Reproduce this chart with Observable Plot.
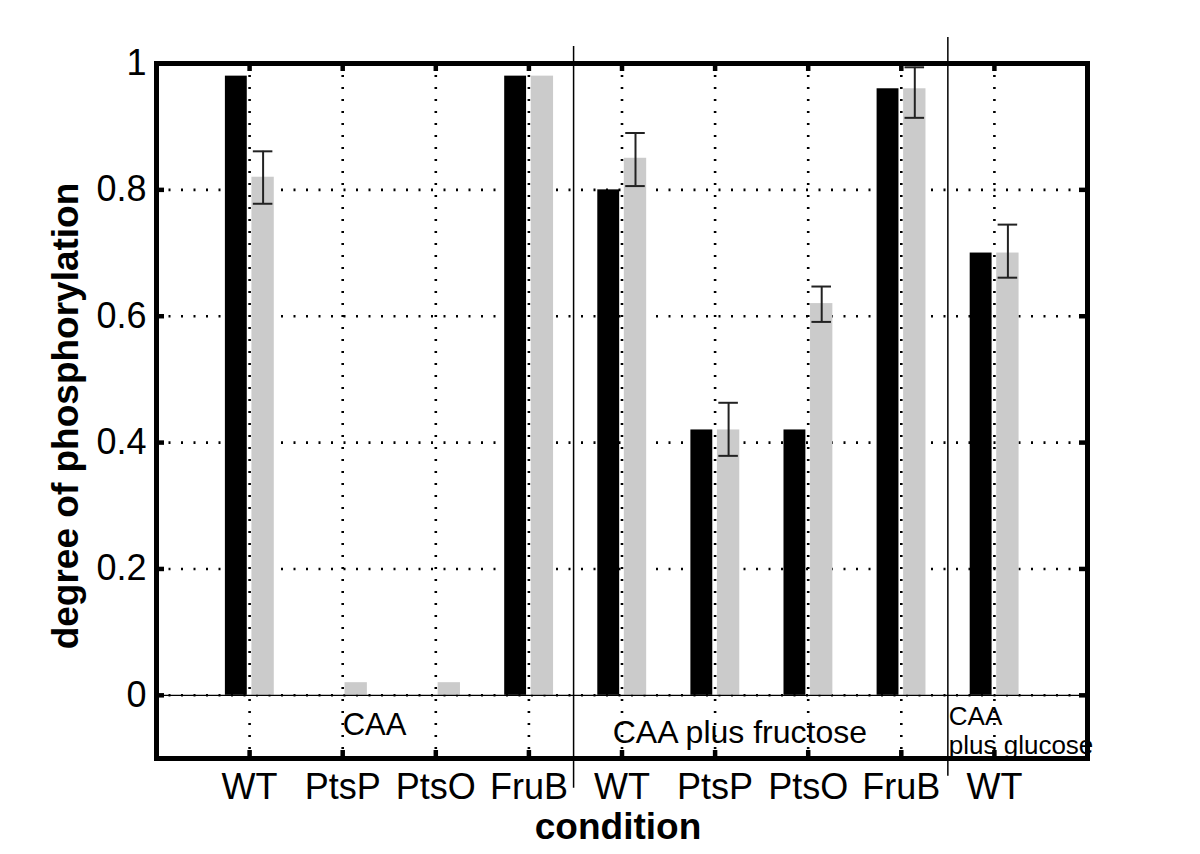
<!DOCTYPE html>
<html><head><meta charset="utf-8">
<script src="https://cdn.jsdelivr.net/npm/d3@7"></script>
<script src="https://cdn.jsdelivr.net/npm/@observablehq/plot@0.6"></script>
<style>body{margin:0;background:#fff} svg{display:block}</style>
</head><body><div id="chart"></div>
<script>
// ---- data ----
const conditions = ["WT","PtsP","PtsO","FruB","WT","PtsP","PtsO","FruB","WT"];
const blackValues = [0.98, 0, 0, 0.98, 0.80, 0.42, 0.42, 0.96, 0.70];
const greyValues  = [0.82, 0.02, 0.02, 0.98, 0.85, 0.42, 0.62, 0.96, 0.70];
const errLow  = [0.778, null, null, null, 0.806, 0.379, 0.591, 0.914, 0.661];
const errHigh = [0.861, null, null, null, 0.890, 0.463, 0.647, 0.994, 0.745];
const yTicks = [0, 0.2, 0.4, 0.6, 0.8, 1];
const groupNames = ["CAA", "CAA plus fructose", "CAA\nplus glucose"];
const groupStart = [2.0, 4.9, 8.51];
const separatorX = [4.48, 8.5];
const separatorTop = [1.027, 1.041];
const separatorBottom = [-0.147, -0.128];

// ---- tables ----
const rows = conditions.map((c, i) => ({pos: i + 1, label: c, black: blackValues[i], grey: greyValues[i], lo: errLow[i], hi: errHigh[i]}));
const errRows = rows.filter(d => d.lo != null);
const positions = rows.map(d => d.pos);
const seps = separatorX.map((x, i) => ({x, top: separatorTop[i], bottom: separatorBottom[i]}));

const W = 1200, H = 854, mL = 156, mR = 113, mT = 63, mB = 96;
const pw = W - mL - mR, ph = H - mT - mB, tickLen = 8;
const font = "'Liberation Sans', Arial, Helvetica, sans-serif";

const chart = Plot.plot({
  width: W, height: H,
  marginLeft: mL, marginRight: mR, marginTop: mT, marginBottom: mB,
  x: {type: "linear", domain: [0, 10]},
  y: {domain: [-0.1, 1]},
  style: {fontFamily: font, background: "#fff", color: "#000", fontSize: "36px"},
  marks: [
    // dotted grid
    Plot.ruleY(yTicks, {y: d => d, stroke: "#000", strokeWidth: 2.6, strokeDasharray: "2,10.5"}),
    Plot.ruleX(positions, {x: d => d, stroke: "#000", strokeWidth: 2.6, strokeDasharray: "2,10"}),
    // bars
    Plot.rect(rows, {x1: d => d.pos - 0.26, x2: d => d.pos - 0.025, y1: d => 0, y2: "black", fill: "#000"}),
    Plot.rect(rows, {x1: d => d.pos + 0.025, x2: d => d.pos + 0.265, y1: d => 0, y2: "grey", fill: "#cbcbcb"}),
    // zero line
    Plot.ruleY([0], {y: d => d, stroke: "#000", strokeWidth: 1.3}),
    // error bars
    Plot.ruleX(errRows, {x: d => d.pos + 0.145, y1: "lo", y2: "hi", stroke: "#222", strokeWidth: 2}),
    Plot.ruleY(errRows, {y: "lo", x1: d => d.pos + 0.04, x2: d => d.pos + 0.25, stroke: "#222", strokeWidth: 2}),
    Plot.ruleY(errRows, {y: "hi", x1: d => d.pos + 0.04, x2: d => d.pos + 0.25, stroke: "#222", strokeWidth: 2}),
    // separators
    Plot.ruleX(seps, {x: "x", y1: "bottom", y2: "top", stroke: "#000", strokeWidth: 1.5}),
    // group labels
    Plot.text([0], {x: () => groupStart[0], y: () => -0.047, text: () => groupNames[0], textAnchor: "start", fontSize: 31}),
    Plot.text([1], {x: () => groupStart[1], y: () => -0.0586, text: () => groupNames[1], textAnchor: "start", fontSize: 32}),
    Plot.text([2], {x: () => groupStart[2], y: () => -0.0547, text: () => groupNames[2], textAnchor: "start", fontSize: 26, lineHeight: 1.12}),
    // inward ticks
    Plot.ruleX(positions, {x: d => d, insetBottom: ph - tickLen, stroke: "#000", strokeWidth: 4.5}),
    Plot.ruleX(positions, {x: d => d, insetTop: ph - tickLen, stroke: "#000", strokeWidth: 4.5}),
    Plot.ruleY(yTicks, {y: d => d, insetRight: pw - tickLen, stroke: "#000", strokeWidth: 4.5}),
    Plot.ruleY(yTicks, {y: d => d, insetLeft: pw - tickLen, stroke: "#000", strokeWidth: 4.5}),
    // frame
    Plot.frame({stroke: "#000", strokeWidth: 5}),
    // axes
    Plot.axisX(positions, {tickSize: 0, tickPadding: 15, tickFormat: i => conditions[i - 1], label: null, fontSize: 36}),
    Plot.axisY(yTicks, {tickSize: 0, tickPadding: 10, tickFormat: d => String(d), label: null, fontSize: 36}),
    // axis titles
    Plot.text(["condition"], {frameAnchor: "bottom", text: d => d, dy: 80, dx: -4, textAnchor: "middle", fontWeight: "bold", fontSize: 37}),
    Plot.text(["degree of phosphorylation"], {frameAnchor: "left", text: d => d, rotate: -90, textAnchor: "middle", lineAnchor: "middle", dx: -90, dy: 5, fontWeight: "bold", fontSize: 37})
  ]
});
document.getElementById("chart").appendChild(chart);
</script>
</body></html>
